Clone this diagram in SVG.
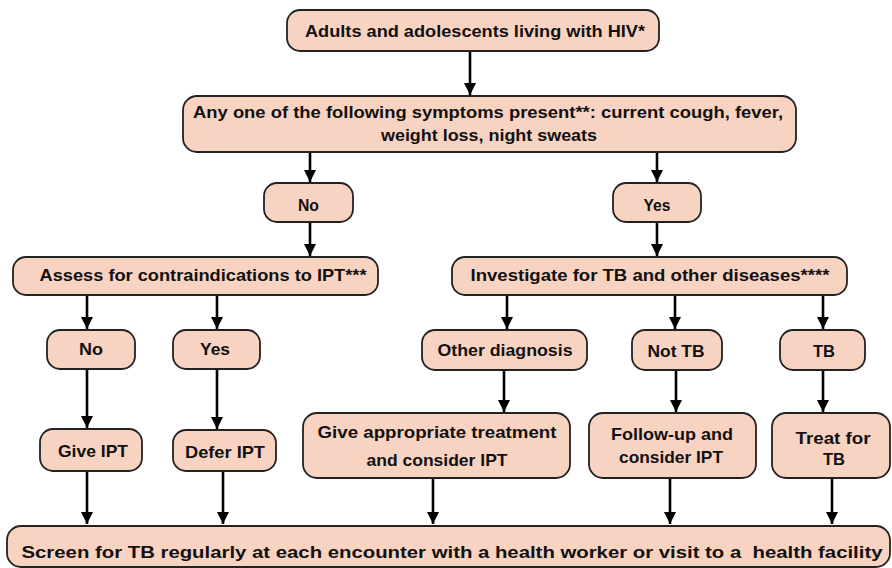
<svg xmlns="http://www.w3.org/2000/svg" width="892" height="568" viewBox="0 0 892 568">
<style>
.box{fill:#F9D3C1;stroke:#222;stroke-width:1.8}
text{font-family:"Liberation Sans",Arial,sans-serif;font-weight:bold;font-size:16.5px;fill:#111;text-anchor:middle}
.c line{stroke:#000;stroke-width:2.6;marker-end:url(#ah)}
</style>
<defs>
<marker id="ah" viewBox="0 0 10 10" refX="10" refY="5" markerUnits="userSpaceOnUse" markerWidth="12" markerHeight="12" orient="auto">
<path d="M0,0 L10,5 L0,10 z" fill="#000"/>
</marker>
</defs>
<rect width="892" height="568" fill="#fff"/>
<g class="c" id="connectors">
<line x1="470" y1="51" x2="470" y2="95"/>
<line x1="310" y1="152" x2="310" y2="182"/>
<line x1="657" y1="152" x2="657" y2="182"/>
<line x1="310" y1="222" x2="310" y2="256"/>
<line x1="657" y1="222" x2="657" y2="256"/>
<line x1="87" y1="295" x2="87" y2="329"/>
<line x1="217" y1="295" x2="217" y2="329"/>
<line x1="507" y1="295" x2="507" y2="329"/>
<line x1="675" y1="295" x2="675" y2="329"/>
<line x1="823" y1="295" x2="823" y2="329"/>
<line x1="87" y1="369" x2="87" y2="428"/>
<line x1="217" y1="369" x2="217" y2="429"/>
<line x1="504" y1="370" x2="504" y2="412"/>
<line x1="676" y1="370" x2="676" y2="412"/>
<line x1="823" y1="370" x2="823" y2="412"/>
<line x1="87" y1="471" x2="87" y2="524"/>
<line x1="223" y1="471" x2="223" y2="524"/>
<line x1="433" y1="478" x2="433" y2="524"/>
<line x1="670" y1="478" x2="670" y2="524"/>
<line x1="832" y1="478" x2="832" y2="524"/>
</g>
<g id="n1"><rect class="box" x="287" y="10" width="372" height="41" rx="13"/><text x="475" y="37" textLength="340" lengthAdjust="spacingAndGlyphs">Adults and adolescents living with HIV*</text></g>
<g id="n2"><rect class="box" x="183" y="96" width="613" height="56" rx="14"/><text x="488" y="118" textLength="590" lengthAdjust="spacingAndGlyphs">Any one of the following symptoms present**: current cough, fever,</text><text x="489" y="141" textLength="216" lengthAdjust="spacingAndGlyphs">weight loss, night sweats</text></g>
<g id="n3"><rect class="box" x="264" y="183" width="89" height="39" rx="13"/><text x="308.5" y="211" textLength="21" lengthAdjust="spacingAndGlyphs">No</text></g>
<g id="n4"><rect class="box" x="613" y="183" width="88" height="39" rx="13"/><text x="657" y="211" textLength="27" lengthAdjust="spacingAndGlyphs">Yes</text></g>
<g id="n5"><rect class="box" x="13" y="257" width="365" height="38" rx="13"/><text x="203" y="281" textLength="327" lengthAdjust="spacingAndGlyphs">Assess for contraindications to IPT***</text></g>
<g id="n6"><rect class="box" x="452" y="257" width="395" height="38" rx="13"/><text x="650" y="281" textLength="359" lengthAdjust="spacingAndGlyphs">Investigate for TB and other diseases****</text></g>
<g id="n7"><rect class="box" x="47" y="330" width="88" height="39" rx="13"/><text x="91" y="355" textLength="24" lengthAdjust="spacingAndGlyphs">No</text></g>
<g id="n8"><rect class="box" x="173" y="330" width="87" height="39" rx="13"/><text x="215" y="355" textLength="30" lengthAdjust="spacingAndGlyphs">Yes</text></g>
<g id="n9"><rect class="box" x="422" y="330" width="165" height="40" rx="13"/><text x="505" y="356" textLength="135" lengthAdjust="spacingAndGlyphs">Other diagnosis</text></g>
<g id="n10"><rect class="box" x="632" y="330" width="90" height="40" rx="13"/><text x="676" y="357" textLength="57" lengthAdjust="spacingAndGlyphs">Not TB</text></g>
<g id="n11"><rect class="box" x="780" y="330" width="85" height="40" rx="13"/><text x="824" y="357" textLength="22" lengthAdjust="spacingAndGlyphs">TB</text></g>
<g id="n12"><rect class="box" x="40" y="429" width="102" height="42" rx="13"/><text x="93" y="457" textLength="70" lengthAdjust="spacingAndGlyphs">Give IPT</text></g>
<g id="n13"><rect class="box" x="173" y="430" width="103" height="41" rx="13"/><text x="225" y="458" textLength="80" lengthAdjust="spacingAndGlyphs">Defer IPT</text></g>
<g id="n14"><rect class="box" x="303" y="413" width="267" height="65" rx="14"/><text x="437" y="438" textLength="239" lengthAdjust="spacingAndGlyphs">Give appropriate treatment</text><text x="437" y="466" textLength="141" lengthAdjust="spacingAndGlyphs">and consider IPT</text></g>
<g id="n15"><rect class="box" x="589" y="413" width="167" height="65" rx="14"/><text x="672" y="440" textLength="122" lengthAdjust="spacingAndGlyphs">Follow-up and</text><text x="671" y="463" textLength="104" lengthAdjust="spacingAndGlyphs">consider IPT</text></g>
<g id="n16"><rect class="box" x="772" y="413" width="118" height="65" rx="14"/><text x="833" y="444" textLength="75" lengthAdjust="spacingAndGlyphs">Treat for</text><text x="834" y="465" textLength="22" lengthAdjust="spacingAndGlyphs">TB</text></g>
<g id="n17"><rect class="box" x="7" y="526" width="883" height="41" rx="14"/><text x="452" y="558" textLength="861" lengthAdjust="spacingAndGlyphs" style="white-space:pre">Screen for TB regularly at each encounter with a health worker or visit to a  health facility</text></g>
</svg>
